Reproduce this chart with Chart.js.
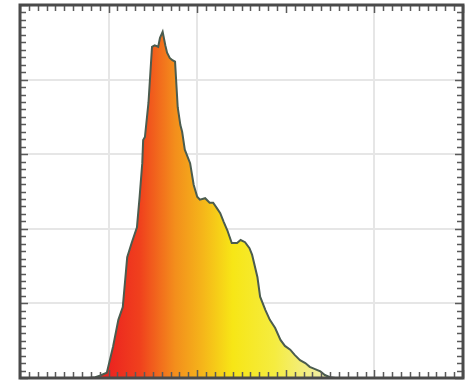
<!DOCTYPE html>
<html>
<head>
<meta charset="utf-8">
<script src="https://cdn.jsdelivr.net/npm/chart.js@4"></script>
<style>
  html, body { margin: 0; padding: 0; background: #fff; }
  #wrap { width: 465px; height: 382px; }
</style>
</head>
<body>
<div id="wrap"><canvas id="hist"></canvas></div>
<script>
// histogram outline: bin position and count
const binX = [0.77, 0.85, 0.90, 0.98, 1.05, 1.11, 1.16, 1.21, 1.26, 1.32,
  1.35, 1.38, 1.39, 1.41, 1.45, 1.49, 1.52, 1.56, 1.58, 1.61,
  1.64, 1.66, 1.69, 1.72, 1.75, 1.78, 1.81, 1.83, 1.86, 1.92,
  1.96, 2.00, 2.03, 2.09, 2.14, 2.18, 2.22, 2.26, 2.30, 2.34,
  2.39, 2.45, 2.49, 2.54, 2.59, 2.62, 2.68, 2.71, 2.77, 2.82,
  2.88, 2.94, 2.99, 3.05, 3.10, 3.16, 3.22, 3.27, 3.33, 3.39,
  3.44, 3.50, 3.56];
const binCount = [0.00, 0.01, 0.03, 0.07, 0.42, 0.78, 0.95, 1.62, 1.81, 2.02,
  2.43, 2.88, 3.19, 3.23, 3.69, 4.44, 4.46, 4.44, 4.56, 4.64,
  4.46, 4.36, 4.29, 4.26, 4.24, 3.63, 3.39, 3.30, 3.06, 2.88,
  2.59, 2.43, 2.39, 2.41, 2.35, 2.35, 2.28, 2.21, 2.09, 1.98,
  1.81, 1.81, 1.85, 1.82, 1.74, 1.65, 1.35, 1.09, 0.91, 0.78,
  0.67, 0.51, 0.43, 0.38, 0.31, 0.24, 0.20, 0.15, 0.12, 0.09,
  0.04, 0.01, 0.00];
const xTicks = [0, 1, 2, 3, 4, 5];
const yTicks = [0, 1, 2, 3, 4, 5];

const points = binX.map((x, i) => ({ x: x, y: binCount[i] }));

// horizontal red -> yellow fill, stops placed on the x scale
function heatFill(context) {
  const chart = context.chart;
  const area = chart.chartArea;
  if (!area) return '#f08020';
  const xs = chart.scales.x;
  const x0 = xs.getPixelForValue(1.0);
  const x1 = xs.getPixelForValue(3.5);
  const g = chart.ctx.createLinearGradient(x0, 0, x1, 0);
  g.addColorStop(0.00, '#ec2420');
  g.addColorStop(0.14, '#f0401d');
  g.addColorStop(0.30, '#f38e1c');
  g.addColorStop(0.42, '#f5b41a');
  g.addColorStop(0.56, '#f7e616');
  g.addColorStop(0.75, '#f5ec40');
  g.addColorStop(1.00, '#f1eeb4');
  return g;
}

// box frame with inward minor ticks on all four sides
const framePlugin = {
  id: 'frame',
  afterDatasetsDraw(chart) {
    const { ctx, chartArea: a, scales: { x, y } } = chart;
    ctx.save();
    ctx.strokeStyle = '#5a5a5a';
    ctx.lineWidth = 1.5;
    for (let i = 0; i <= 50; i++) {
      const v = i / 10;
      const len = i % 10 === 0 ? 8 : 6;
      const px = Math.round(x.getPixelForValue(v)) + 0.5;
      ctx.beginPath();
      ctx.moveTo(px, a.top); ctx.lineTo(px, a.top + len);
      ctx.moveTo(px, a.bottom); ctx.lineTo(px, a.bottom - len);
      ctx.stroke();
      const py = Math.round(y.getPixelForValue(v)) + 0.5;
      ctx.beginPath();
      ctx.moveTo(a.left, py); ctx.lineTo(a.left + len, py);
      ctx.moveTo(a.right, py); ctx.lineTo(a.right - len, py);
      ctx.stroke();
    }
    ctx.strokeStyle = '#4a4a4a';
    ctx.lineWidth = 3;
    ctx.strokeRect(a.left, a.top, a.width, a.height);
    ctx.restore();
  }
};

new Chart(document.getElementById('hist'), {
  type: 'line',
  data: {
    datasets: [{
      data: points,
      borderColor: '#4b5c4f',
      borderWidth: 2,
      backgroundColor: heatFill,
      fill: 'origin',
      pointRadius: 0,
      tension: 0
    }]
  },
  options: {
    responsive: true,
    maintainAspectRatio: false,
    animation: false,
    layout: { padding: { left: 20, top: 5, right: 2, bottom: 4 } },
    plugins: { legend: { display: false }, tooltip: { enabled: false } },
    scales: {
      x: {
        type: 'linear',
        min: xTicks[0],
        max: xTicks[xTicks.length - 1],
        afterBuildTicks: axis => { axis.ticks = xTicks.map(v => ({ value: v })); },
        ticks: { display: false },
        border: { display: false },
        grid: {
          drawTicks: false,
          lineWidth: 2,
          color: c => (c.tick && c.tick.value === 3) ? 'rgba(0,0,0,0)' : '#e6e6e6'
        }
      },
      y: {
        min: yTicks[0],
        max: yTicks[yTicks.length - 1],
        afterBuildTicks: axis => { axis.ticks = yTicks.map(v => ({ value: v })); },
        ticks: { display: false },
        border: { display: false },
        grid: { drawTicks: false, lineWidth: 2, color: '#e6e6e6' }
      }
    }
  },
  plugins: [framePlugin]
});
</script>
</body>
</html>
